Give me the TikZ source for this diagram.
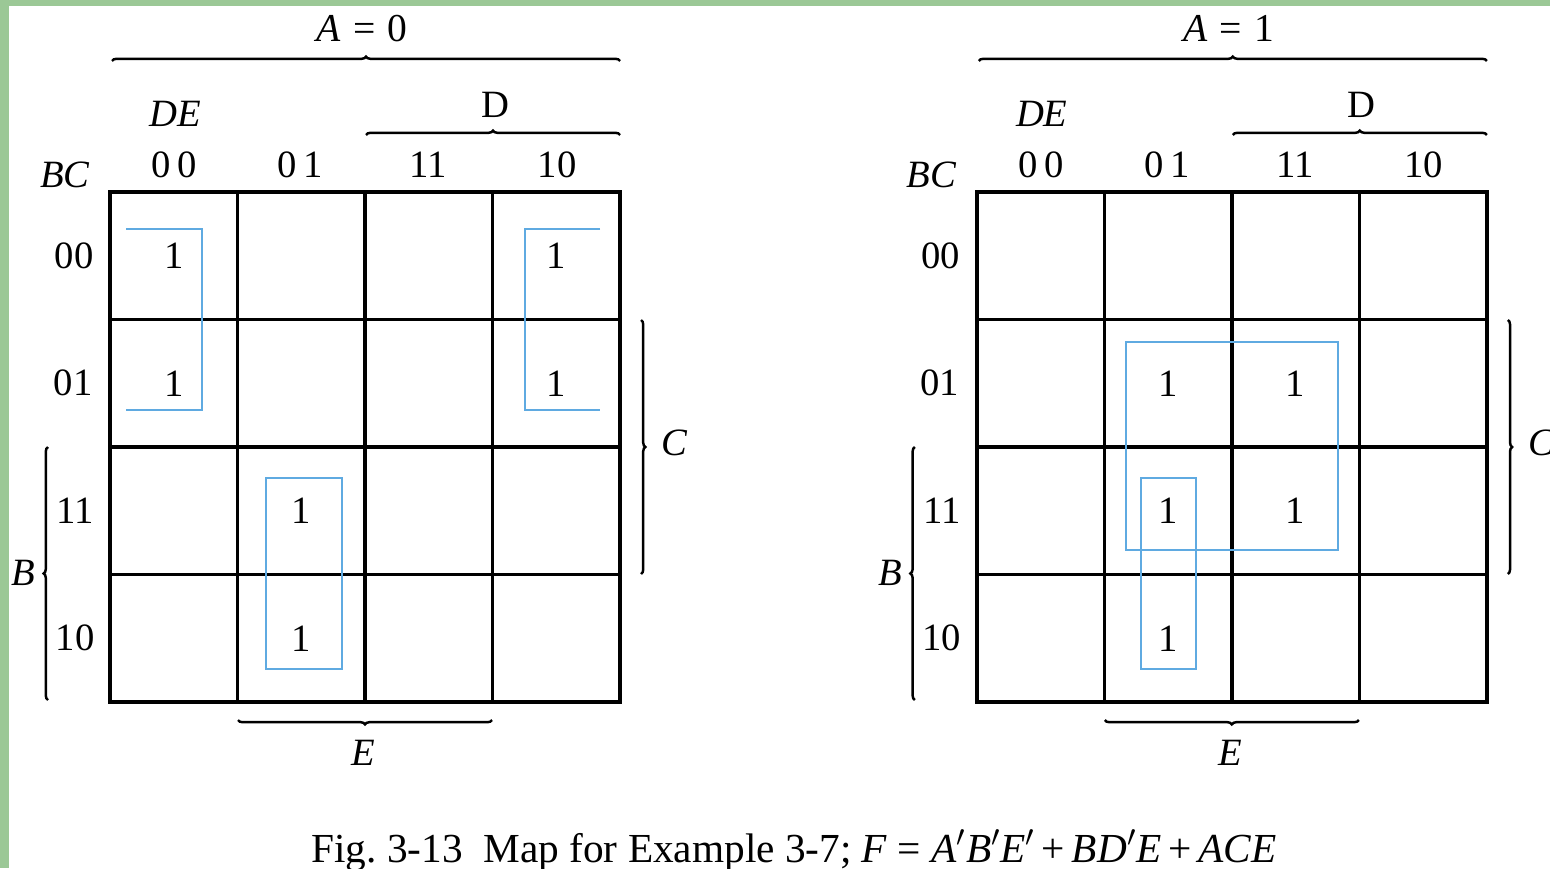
\documentclass[tikz,border=0pt]{standalone}
\usepackage{fontspec}
\setmainfont{Liberation Serif}
\usetikzlibrary{decorations.pathreplacing}
\definecolor{loopblue}{RGB}{95,170,225}
\definecolor{marble}{RGB}{155,200,150}
\tikzset{
  gridline/.style={line width=2pt, black},
  brk/.style={line width=1.4pt, decorate, decoration={brace, amplitude=2.5pt, aspect=0.5}},
  grp/.style={line width=1pt, loopblue},
  lbl/.style={anchor=base, inner sep=0pt, font=\fontsize{22}{26}\selectfont},
  toplbl/.style={anchor=base, inner sep=0pt, font=\fontsize{22.5}{26}\selectfont},
  caplbl/.style={anchor=base, inner sep=0pt, font=\fontsize{23.5}{27}\selectfont},
}
\newcommand\kmapdraw[2]{%
  % grid
  \draw[gridline] (110,192) rectangle (620,702);
  \foreach \i in {1,2,3} {
    \draw[gridline] (110+127.5*\i,192) -- (110+127.5*\i,702);
    \draw[gridline] (110,192+127.5*\i) -- (620,192+127.5*\i);
  }
  % top label and bracket
  \node[toplbl] (#1-A) at (362,42) {\textit{A}\hspace{0.3em}=\hspace{0.3em}#2};
  \coordinate (#1-a1) at (112,61);
  \coordinate (#1-a2) at (620,61);
  \draw[brk] (#1-a1) -- (#1-a2);
  % D bracket
  \node[lbl] (#1-D) at (495,118) {D};
  \coordinate (#1-d1) at (366,135);
  \coordinate (#1-d2) at (620,135);
  \draw[brk] (#1-d1) -- (#1-d2);
  % axis names
  \node[lbl] (#1-DE) at (175,127) {\textit{DE}};
  \node[lbl] (#1-BC) at (65,188) {\textit{BC}};
  % column labels
  \node[lbl] (#1-c0) at (174,177) {0\,0};
  \node[lbl] (#1-c1) at (300,177) {0\,1};
  \node[lbl] (#1-c2) at (428,177) {11};
  \node[lbl] (#1-c3) at (557,177) {10};
  % row labels
  \node[lbl] (#1-r0) at (74,268) {00};
  \node[lbl] (#1-r1) at (73,395) {01};
  \node[lbl] (#1-r2) at (75,523) {11};
  \node[lbl] (#1-r3) at (75,650) {10};
  % B bracket
  \coordinate (#1-b1) at (48,700);
  \coordinate (#1-b2) at (48,447);
  \draw[brk] (#1-b1) -- (#1-b2);
  \node[lbl] (#1-B) at (23,585) {\textit{B}};
  % C bracket
  \coordinate (#1-k1) at (641,320);
  \coordinate (#1-k2) at (641,574);
  \draw[brk] (#1-k1) -- (#1-k2);
  \node[lbl] (#1-C) at (675,455) {\textit{C}};
  % E bracket
  \coordinate (#1-e1) at (492,720);
  \coordinate (#1-e2) at (238,720);
  \draw[brk] (#1-e1) -- (#1-e2);
  \node[lbl] (#1-E) at (363,765) {\textit{E}};
}
\begin{document}
\begin{tikzpicture}[x=0.02cm, y=-0.02cm]
  \useasboundingbox (0,0) rectangle (1550,868);
  \fill[white] (0,0) rectangle (1550,868);
  \fill[marble] (0,0) rectangle (1550,6);
  \fill[marble] (0,0) rectangle (9,868);

  % left map, A = 0
  \kmapdraw{L}{0}
  \node[lbl] (L-m00) at (173.75,268.75) {1};
  \node[lbl] (L-m10) at (173.75,396.25) {1};
  \node[lbl] (L-m03) at (556.25,268.75) {1};
  \node[lbl] (L-m13) at (556.25,396.25) {1};
  \node[lbl] (L-m21) at (301.25,523.75) {1};
  \node[lbl] (L-m31) at (301.25,651.25) {1};
  \draw[grp] (126,229) -- (202,229) -- (202,410) -- (126,410);
  \draw[grp] (600,229) -- (525,229) -- (525,410) -- (600,410);
  \draw[grp] (266,478) rectangle (342,669);

  % right map, A = 1
  \begin{scope}[xshift=17.34cm]
    \kmapdraw{R}{1}
    \node[lbl] (R-m11) at (301.25,396.25) {1};
    \node[lbl] (R-m12) at (428.75,396.25) {1};
    \node[lbl] (R-m21) at (301.25,523.75) {1};
    \node[lbl] (R-m22) at (428.75,523.75) {1};
    \node[lbl] (R-m31) at (301.25,651.25) {1};
    \draw[grp] (259,342) rectangle (471,550);
    \draw[grp] (274,478) rectangle (329,669);
  \end{scope}

  % caption
  \node[caplbl] (cap) at (794,862) {Fig.\ 3-13\enspace Map for Example 3-7; \textit{F} = \textit{A}$'$\textit{B}$'$\textit{E}$'$\,+\,\textit{BD}$'$\textit{E}\,+\,\textit{ACE}};
\end{tikzpicture}
\end{document}
